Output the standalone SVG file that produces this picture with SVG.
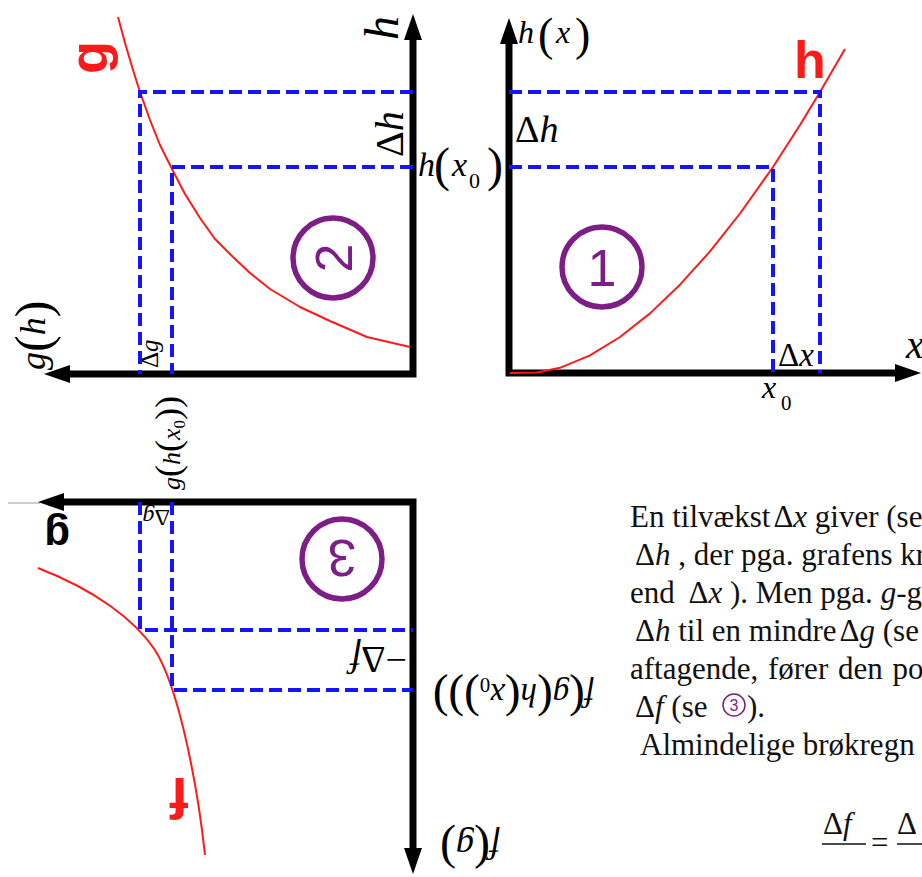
<svg xmlns="http://www.w3.org/2000/svg" xmlns:xlink="http://www.w3.org/1999/xlink" width="922" height="877" viewBox="0 0 922 877">
<style>
.ax{fill:none;stroke:#000;stroke-width:7;stroke-linejoin:miter}
.ah{fill:#000}
.dash{fill:none;stroke:#1414ff;stroke-width:4;stroke-dasharray:13 6}
.curve{fill:none;stroke:#ff1a1a;stroke-width:2;stroke-linejoin:round}
.circ{fill:none;stroke:#7d1e86;stroke-width:5.5}
.num{font-family:"Liberation Sans",Arial,sans-serif;font-size:52px;fill:#7d1e86;text-anchor:middle}
.m{font-family:"Liberation Serif","Times New Roman","DejaVu Serif",serif;fill:#000}
.i{font-style:italic}
.red{font-family:"Liberation Sans",Arial,sans-serif;font-weight:bold;fill:#ff1a1a}
.txt{font-family:"Liberation Serif","Times New Roman","DejaVu Serif",serif;font-size:31px;fill:#111}
</style>
<defs>
<path id="ah" d="M0,0 L-26,-9 L-26,9 Z"/>
</defs>

<g id="panel1">
  <polyline class="ax" points="509,42 509,373 897,373"/>
  <use xlink:href="#ah" class="ah" transform="translate(509,18) rotate(-90)"/>
  <use xlink:href="#ah" class="ah" transform="translate(921,373)"/>
  <path class="curve" d="M510,373 L537,372.6 L560,367.8 L590,355.3 L620,337 L650,313.4 L680,284.7 L710,251.4 L740,213.5 L773,167 L800,125 L820,92 L845,49"/>
  <circle class="circ" cx="602" cy="267" r="40"/>
  <text class="num" x="602" y="286">1</text>
  <text class="red" x="794" y="78" font-size="52">h</text>
  <text class="m" font-size="32"><tspan class="i" x="518" y="43">h</tspan><tspan x="538" y="50" font-size="46">(</tspan><tspan class="i" x="556" y="43">x</tspan><tspan x="575" y="50" font-size="46">)</tspan></text>
  <text class="m" font-size="38" x="515" y="142">Δ<tspan class="i">h</tspan></text>
  <text class="m" font-size="33" x="778" y="366">Δ<tspan class="i">x</tspan></text>
  <text class="m" font-size="32"><tspan class="i" x="762" y="398">x</tspan><tspan x="781" y="410" font-size="21">0</tspan></text>
  <text class="m i" font-size="40" x="906" y="358">x</text>
</g>

<g id="panel2">
  <polyline class="ax" points="413,38 413,374 68,374"/>
  <use xlink:href="#ah" class="ah" transform="translate(413,14) rotate(-90)"/>
  <use xlink:href="#ah" class="ah" transform="translate(44,374) rotate(180)"/>
  <path class="curve" d="M118,17 L125,43 L133,70 L140,92 L150,120 L160,145 L172,169 L185,194 L200,218 L215,239 L233,257 L250,273 L270,289 L300,307 L330,321 L367,337 L410,347"/>
  <circle class="circ" cx="333" cy="258" r="40"/>
  <text class="num" transform="translate(333,258) rotate(-90)" x="0" y="19">2</text>
  <text class="red" transform="translate(107,74) rotate(-90)" font-size="54">g</text>
  <text class="m i" transform="translate(398,40) rotate(-90)" font-size="48">h</text>
  <text class="m" transform="translate(403,157) rotate(-90)" font-size="40">Δ<tspan class="i">h</tspan></text>
  <text class="m" transform="translate(45,370) rotate(-90)" font-size="36"><tspan class="i">g</tspan><tspan font-size="50" dy="5">(</tspan><tspan class="i" dy="-5">h</tspan><tspan font-size="50" dy="5">)</tspan></text>
  <text class="m" transform="translate(158,368) rotate(-90)" font-size="25">Δ<tspan class="i">g</tspan></text>
  <text class="m" font-size="34"><tspan class="i" x="418" y="176">h</tspan><tspan x="434" y="181" font-size="48">(</tspan><tspan class="i" x="452" y="176">x</tspan><tspan x="469" y="188" font-size="22">0</tspan><tspan x="487" y="181" font-size="48">)</tspan></text>
</g>

<g id="panel3">
  <line x1="8" y1="503" x2="40" y2="503" stroke="#9a9a9a" stroke-width="1"/>
  <polyline class="ax" points="62,502 413,502 413,850"/>
  <use xlink:href="#ah" class="ah" transform="translate(38,502) rotate(180)"/>
  <use xlink:href="#ah" class="ah" transform="translate(413,874) rotate(90)"/>
  <path class="curve" d="M38,568 C95,590 135,620 155,650 C180,690 198,790 205,855"/>
  <circle class="circ" cx="342" cy="559" r="40"/>
  <text class="num" transform="translate(342,559) rotate(180)" x="0" y="19">3</text>
  <text class="red" transform="translate(189,778) rotate(180)" font-size="58">f</text>
  <text transform="translate(70,522) rotate(180)" font-family="Liberation Sans,Arial,sans-serif" font-weight="bold" font-size="42" fill="#000">g</text>
  <text class="m" transform="translate(170,510) rotate(180)" font-size="24">Δ<tspan class="i">g</tspan></text>
  <text class="m" transform="translate(407,647) rotate(180)" font-size="38">−Δ<tspan class="i">f</tspan></text>
  <text class="m" transform="translate(594,684) rotate(180)" font-size="33"><tspan class="i">f</tspan><tspan font-size="47">(</tspan><tspan class="i">g</tspan><tspan font-size="47">(</tspan><tspan class="i">h</tspan><tspan font-size="47">(</tspan><tspan class="i">x</tspan><tspan font-size="21" dy="6">0</tspan><tspan font-size="47" dy="-6">)</tspan><tspan font-size="47">)</tspan><tspan font-size="47">)</tspan></text>
  <text class="m" transform="translate(500,835) rotate(180)" font-size="36"><tspan class="i">f</tspan><tspan font-size="48">(</tspan><tspan class="i">g</tspan><tspan font-size="48">)</tspan></text>
  <text class="m" transform="translate(180,490) rotate(-90)" font-size="26"><tspan class="i">g</tspan><tspan font-size="36">(</tspan><tspan class="i">h</tspan><tspan font-size="36">(</tspan><tspan class="i">x</tspan><tspan font-size="17" dy="5">0</tspan><tspan font-size="36" dy="-5">)</tspan><tspan font-size="36">)</tspan></text>
</g>

<g id="connectors">
  <path class="dash" d="M413,92 H140 V374 M413,167 H172 V374"/>
  <path class="dash" d="M509,92 H820 V373 M509,167 H773 V373"/>
  <path class="dash" d="M140,502 V630 H413 M172,502 V690 H413"/>
</g>

<g id="text" class="txt">
  <text x="630" y="527">En tilvækst<tspan dx="3">Δ</tspan><tspan class="i">x</tspan> giver (se</text>
  <text x="635" y="565">Δ<tspan class="i">h</tspan> , der pga. grafens kr</text>
  <text x="630" y="603">end <tspan dx="6">Δ</tspan><tspan class="i">x</tspan> ). Men pga. <tspan class="i">g</tspan>-g</text>
  <text x="635" y="641">Δ<tspan class="i">h</tspan> til en mindre<tspan dx="3">Δ</tspan><tspan class="i">g</tspan> (se</text>
  <text x="630" y="679" word-spacing="2">aftagende, fører den po</text>
  <text x="635" y="717">Δ<tspan class="i">f</tspan> (se</text>
  <circle cx="734" cy="705" r="11" fill="none" stroke="#7d1e86" stroke-width="1.5"/>
  <text x="734" y="711" font-family="Liberation Sans,Arial,sans-serif" font-size="16" fill="#7d1e86" text-anchor="middle">3</text>
  <text x="747" y="717">).</text>
  <text x="640" y="755">Almindelige brøkregn</text>
  <text x="823" y="834">Δ<tspan class="i">f</tspan></text>
  <line x1="822" y1="844" x2="866" y2="844" stroke="#111" stroke-width="1.5"/>
  <text x="871" y="853">=</text>
  <text x="897" y="834">Δ</text>
  <line x1="897" y1="844" x2="922" y2="844" stroke="#111" stroke-width="1.5"/>
</g>
</svg>
